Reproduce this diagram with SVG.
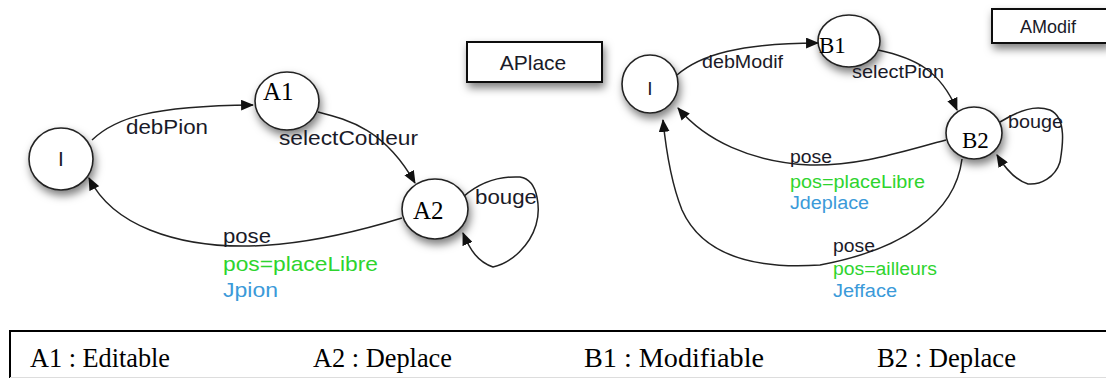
<svg xmlns="http://www.w3.org/2000/svg" width="1106" height="378" viewBox="0 0 1106 378">
<defs>
<filter id="sh" x="-40%" y="-40%" width="190%" height="200%">
<feDropShadow dx="2" dy="5" stdDeviation="4" flood-color="#000" flood-opacity="0.5"/>
</filter>
<marker id="ah" viewBox="0 0 12 10" refX="11" refY="5" markerWidth="13" markerHeight="11" markerUnits="userSpaceOnUse" orient="auto">
<path d="M0,0 L12,5 L0,10 Z" fill="#111"/>
</marker>
<style>
.node{fill:#fff;stroke:#222;stroke-width:1.6;filter:url(#sh)}
.box{fill:#fff;stroke:#111;stroke-width:2;filter:url(#sh)}
.edge{fill:none;stroke:#222;stroke-width:1.5;marker-end:url(#ah)}
.st{font-family:"Liberation Serif","Times New Roman",serif;fill:#000}
.lb{font-family:"Liberation Sans",Arial,sans-serif;fill:#1a1a28}
.g{font-family:"Liberation Sans",Arial,sans-serif;fill:#2ed42e}
.b{font-family:"Liberation Sans",Arial,sans-serif;fill:#3b9ad9}
.tb{font-family:"Liberation Serif","Times New Roman",serif;fill:#000;font-size:27px}
</style>
</defs>
<rect width="1106" height="378" fill="#fff"/>

<!-- connectors -->
<g id="connectors">
<path class="edge" d="M92,140 C115,118 150,106 253,105"/>
<path class="edge" d="M318,112 C350,120 385,130 415,183"/>
<path class="edge" d="M402,218 C330,240 230,262 150,230 C120,218 100,200 89,178"/>
<path class="edge" d="M463,197 C480,182 500,176 520,177 C540,180 540,212 536,225 C530,245 512,263 493,267 C478,262 470,250 463,233"/>
<path class="edge" d="M677,75 C700,55 740,43 818,43"/>
<path class="edge" d="M878,50 C915,58 940,70 957,110"/>
<path class="edge" d="M946,140 C900,152 860,166 810,165 C750,162 705,140 678,108"/>
<path class="edge" d="M962,159 C955,215 900,250 820,265 C745,270 700,250 682,210 C672,185 666,150 663,120"/>
<path class="edge" d="M1000,122 C1020,110 1035,105 1050,110 C1068,118 1062,150 1060,162 C1055,178 1040,185 1028,184 C1015,180 1005,168 997,155"/>
</g>

<!-- left diagram nodes -->
<g id="nodeI_left">
<ellipse class="node" cx="61" cy="159" rx="32" ry="31"/>
<text class="lb" x="61" y="166" font-size="21" text-anchor="middle">I</text>
</g>
<g id="nodeA1">
<ellipse class="node" cx="287" cy="101" rx="32" ry="29"/>
<text class="st" x="263" y="100" font-size="25">A1</text>
</g>
<g id="nodeA2">
<ellipse class="node" cx="435" cy="209" rx="33" ry="30"/>
<text class="st" x="413" y="219" font-size="25">A2</text>
</g>
<g id="boxAPlace">
<rect class="box" x="467" y="42" width="135" height="40"/>
<text class="lb" x="533" y="70" font-size="21" text-anchor="middle">APlace</text>
</g>

<!-- left labels -->
<g id="labels_left">
<text class="lb" x="126" y="134" font-size="21" textLength="82" lengthAdjust="spacingAndGlyphs">debPion</text>
<text class="lb" x="279" y="145" font-size="21" textLength="139" lengthAdjust="spacingAndGlyphs">selectCouleur</text>
<text class="lb" x="475" y="204" font-size="21" textLength="62" lengthAdjust="spacingAndGlyphs">bouge</text>
<text class="lb" x="223" y="243" font-size="21" textLength="48" lengthAdjust="spacingAndGlyphs">pose</text>
<text class="g" x="223" y="271" font-size="21" textLength="155" lengthAdjust="spacingAndGlyphs">pos=placeLibre</text>
<text class="b" x="223" y="297" font-size="21" textLength="55" lengthAdjust="spacingAndGlyphs">Jpion</text>
</g>

<!-- right diagram nodes -->
<g id="nodeI_right">
<ellipse class="node" cx="650" cy="84" rx="28" ry="29"/>
<text class="lb" x="650" y="95" font-size="19" text-anchor="middle">I</text>
</g>
<g id="nodeB1">
<ellipse class="node" cx="849" cy="41" rx="31" ry="26"/>
<text class="st" x="819" y="53" font-size="23">B1</text>
</g>
<g id="nodeB2">
<ellipse class="node" cx="974" cy="133" rx="28" ry="26"/>
<text class="st" x="962" y="148" font-size="23">B2</text>
</g>
<g id="boxAModif">
<rect class="box" x="992" y="9" width="116" height="34"/>
<text class="lb" x="1048" y="33" font-size="18" text-anchor="middle">AModif</text>
</g>

<!-- right labels -->
<g id="labels_right">
<text class="lb" x="702" y="68" font-size="19" textLength="81" lengthAdjust="spacingAndGlyphs">debModif</text>
<text class="lb" x="852" y="78" font-size="19" textLength="92" lengthAdjust="spacingAndGlyphs">selectPion</text>
<text class="lb" x="1008" y="128" font-size="19" textLength="55" lengthAdjust="spacingAndGlyphs">bouge</text>
<text class="lb" x="790" y="163" font-size="18" textLength="42" lengthAdjust="spacingAndGlyphs">pose</text>
<text class="g" x="790" y="188" font-size="18" textLength="135" lengthAdjust="spacingAndGlyphs">pos=placeLibre</text>
<text class="b" x="790" y="209" font-size="18" textLength="79" lengthAdjust="spacingAndGlyphs">Jdeplace</text>
<text class="lb" x="833" y="252" font-size="18" textLength="42" lengthAdjust="spacingAndGlyphs">pose</text>
<text class="g" x="833" y="275" font-size="18" textLength="104" lengthAdjust="spacingAndGlyphs">pos=ailleurs</text>
<text class="b" x="833" y="297" font-size="18" textLength="64" lengthAdjust="spacingAndGlyphs">Jefface</text>
</g>

<!-- legend table -->
<g id="legend">
<line x1="9" y1="331" x2="1106" y2="331" stroke="#000" stroke-width="2"/>
<line x1="10" y1="330" x2="10" y2="378" stroke="#000" stroke-width="2"/>
<line x1="10" y1="377.5" x2="1106" y2="377.5" stroke="#ddd" stroke-width="1"/>
<text class="tb" x="30" y="367" textLength="140" lengthAdjust="spacingAndGlyphs">A1 : Editable</text>
<text class="tb" x="313" y="367" textLength="139" lengthAdjust="spacingAndGlyphs">A2 : Deplace</text>
<text class="tb" x="584" y="367" textLength="180" lengthAdjust="spacingAndGlyphs">B1 : Modifiable</text>
<text class="tb" x="877" y="367" textLength="139" lengthAdjust="spacingAndGlyphs">B2 : Deplace</text>
</g>
</svg>
